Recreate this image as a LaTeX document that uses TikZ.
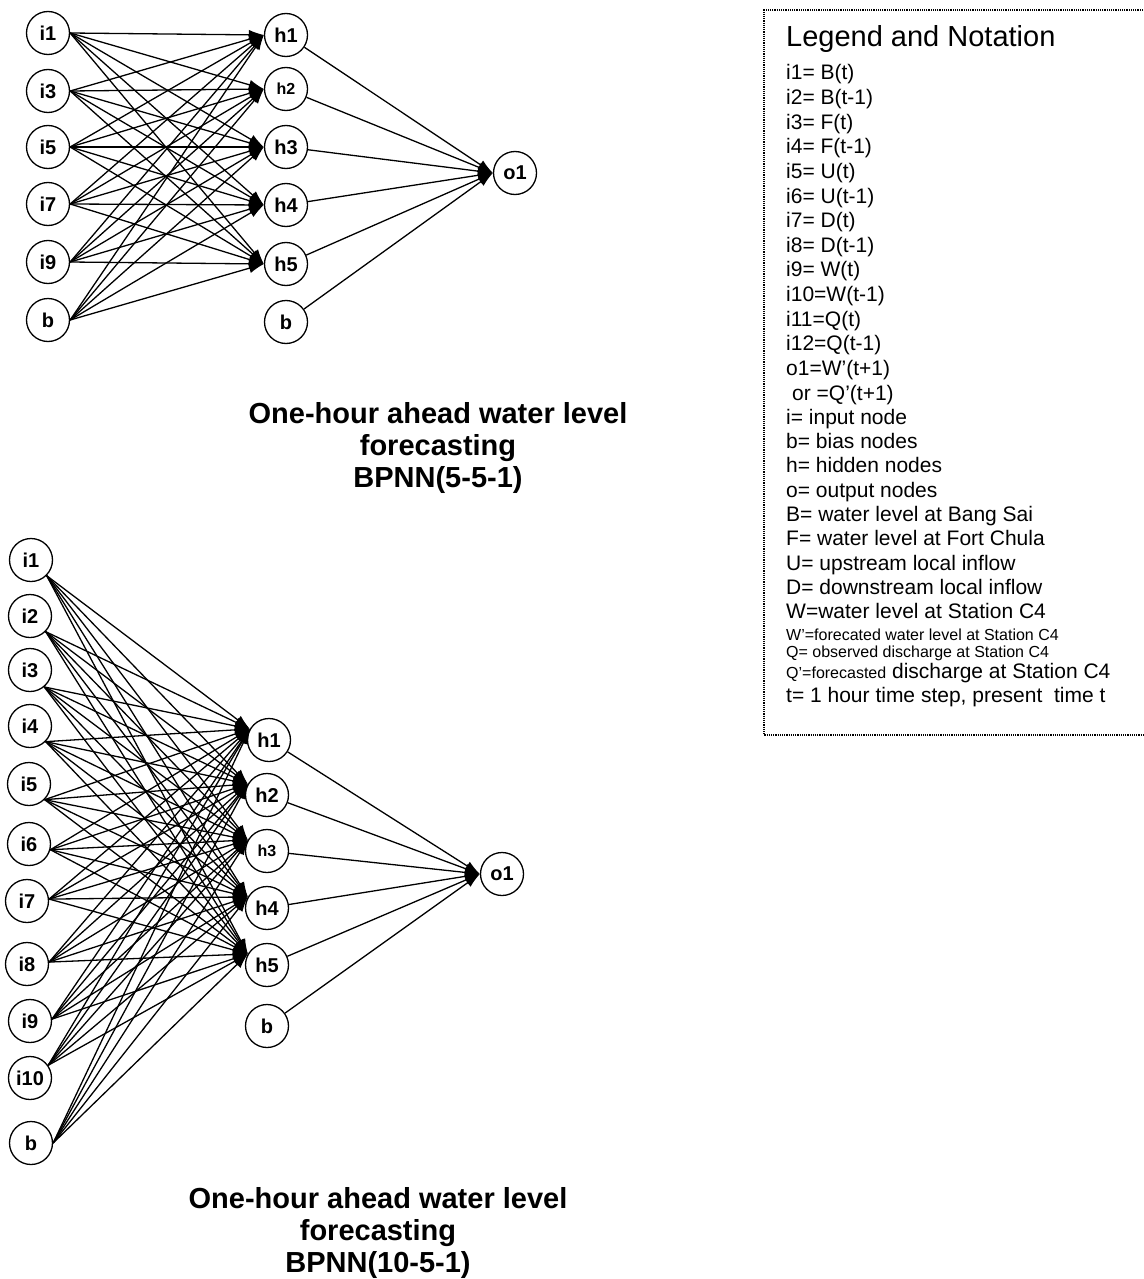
\documentclass[tikz,border=0pt]{standalone}
\usepackage{fontspec}
\setmainfont{Liberation Sans}
\usetikzlibrary{arrows.meta}

\begin{document}
\begin{tikzpicture}[x=1pt, y=-1pt,
  neuron/.style={shape=circle, draw=black, line width=1.3pt, minimum size=43pt, inner sep=0pt, font=\bfseries\fontsize{20}{20}\selectfont},
  wire/.style={line width=1.3pt, draw=black, -{Latex[length=15pt, width=10pt]}},
  note/.style={anchor=base west, inner sep=0pt, font=\fontsize{21}{21}\selectfont},
  smallnote/.style={note, font=\fontsize{16}{16}\selectfont},
  caption/.style={anchor=north, inner sep=0pt, align=center, font=\bfseries\fontsize{29}{32}\selectfont}]
\useasboundingbox (0,0) rectangle (1143,1279);

% BPNN(5-5-1)
\node[neuron] (pi1) at (48, 33) {i1};
\node[neuron] (pi3) at (48, 91) {i3};
\node[neuron] (pi5) at (48, 147) {i5};
\node[neuron] (pi7) at (48, 204) {i7};
\node[neuron] (pi9) at (48, 262) {i9};
\node[neuron] (pib) at (48, 320) {b};
\node[neuron] (ph1) at (286, 35) {h1};
\node[neuron, font=\bfseries\fontsize{16}{16}\selectfont] (ph2) at (286, 89) {h2};
\node[neuron] (ph3) at (286, 147) {h3};
\node[neuron] (ph4) at (286, 205) {h4};
\node[neuron] (ph5) at (286, 264) {h5};
\node[neuron] (phb) at (286, 322) {b};
\node[neuron] (po1) at (515, 173) {o1};
\foreach \s in {i1,i3,i5,i7,i9,ib}
  \foreach \t in {1,...,5}
    \draw [wire] (p\s.east) -- (ph\t.west);
\foreach \s in {1,2,3,4,5,b}
  \draw [wire] (ph\s) -- (po1.west);
\node[caption] (cap1) at (438, 402) {One-hour ahead water level\\forecasting\\BPNN(5-5-1)};

% BPNN(10-5-1)
\node[neuron] (qi1) at (31, 560) {i1};
\node[neuron] (qi2) at (30, 616) {i2};
\node[neuron] (qi3) at (30, 670) {i3};
\node[neuron] (qi4) at (30, 726) {i4};
\node[neuron] (qi5) at (29, 784) {i5};
\node[neuron] (qi6) at (29, 844) {i6};
\node[neuron] (qi7) at (27, 901) {i7};
\node[neuron] (qi8) at (27, 964) {i8};
\node[neuron] (qi9) at (30, 1021) {i9};
\node[neuron] (qi10) at (30, 1078) {i10};
\node[neuron] (qib) at (31, 1143) {b};
\node[neuron] (qh1) at (269, 740) {h1};
\node[neuron] (qh2) at (267, 795) {h2};
\node[neuron, font=\bfseries\fontsize{16}{16}\selectfont] (qh3) at (267, 851) {h3};
\node[neuron] (qh4) at (267, 908) {h4};
\node[neuron] (qh5) at (267, 965) {h5};
\node[neuron] (qhb) at (267, 1026) {b};
\node[neuron] (qo1) at (502, 874) {o1};
\foreach \s/\a in {1/-45,2/-45,3/-50,4/-45,5/-45,6/-15,7/5,8/5,9/5,10/35,b/0}
  \foreach \t in {1,...,5}
    \draw [wire] (qi\s.\a) -- (qh\t.150);
\foreach \s in {1,2,3,4,5,b}
  \draw [wire] (qh\s) -- (qo1.west);
\node[caption] (cap2) at (378, 1187) {One-hour ahead water level\\forecasting\\BPNN(10-5-1)};

% legend
\draw[densely dotted, line width=1.2pt] (1143, 10) -- (764, 10) -- (764, 735) -- (1143, 735);
\node[note, font=\fontsize{29}{29}\selectfont] (legend) at (786, 47) {Legend and Notation};
\foreach \txt [count=\n from 0] in {i1= B(t), i2= B(t-1), i3= F(t), i4= F(t-1), i5= U(t), i6= U(t-1), i7= D(t), i8= D(t-1), i9= W(t), i10=W(t-1), i11=Q(t), i12=Q(t-1), o1=W’(t+1)}
  \node[note] (va\n) at (786, {80+24.6*\n}) {\txt};
\node[note] (vb0) at (792, 400) {or =Q’(t+1)};
\foreach \txt [count=\n from 1] in {i= input node, b= bias nodes, h= hidden nodes, o= output nodes, B= water level at Bang Sai, F= water level at Fort Chula, U= upstream local inflow, D= downstream local inflow, W=water level at Station C4}
  \node[note] (vb\n) at (786, {400+24.3*\n}) {\txt};
\node[smallnote] (vc1) at (786, 640) {W’=forecated water level at Station C4};
\node[smallnote] (vc2) at (786, 657) {Q= observed discharge at Station C4};
\node[note] (vc3) at (786, 678) {{\fontsize{16}{16}\selectfont Q’=forecasted} discharge at Station C4};
\node[note] (vc4) at (786, 702) {t= 1 hour time step, present~ time t};
\end{tikzpicture}
\end{document}
